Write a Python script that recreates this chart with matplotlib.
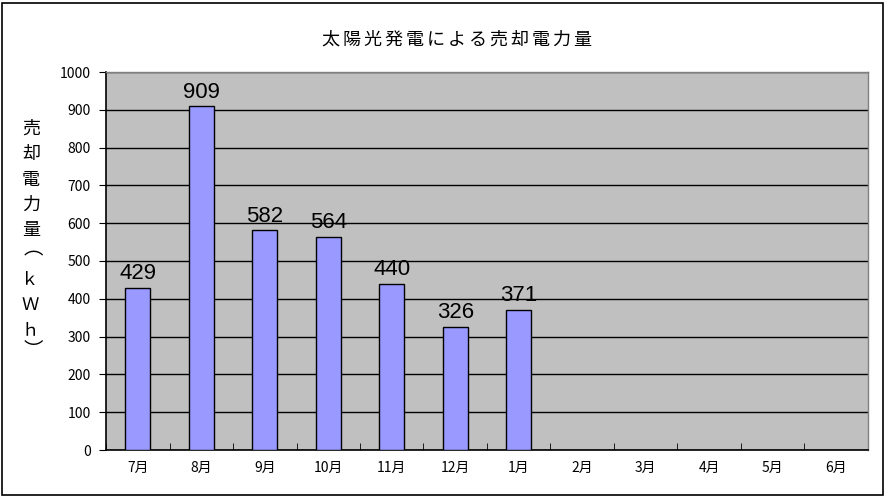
import numpy as np
import matplotlib.pyplot as plt
from matplotlib.patches import Rectangle

plt.rcParams['font.family'] = ['Noto Sans CJK JP', 'DejaVu Sans']

months = ["7月", "8月", "9月", "10月", "11月", "12月", "1月", "2月", "3月", "4月", "5月", "6月"]
sold_kwh = [429, 909, 582, 564, 440, 326, 371]
y_ticks = [0, 100, 200, 300, 400, 500, 600, 700, 800, 900, 1000]
title = "太陽光発電による売却電力量"
ylabel_chars = ["売", "却", "電", "力", "量", "︵", "ｋ", "Ｗ", "ｈ", "︶"]
ylabel_rows = [128.5, 154, 180, 205, 230, 251, 280, 305, 330, 345.5]

W, H = 885, 496
fig = plt.figure(figsize=(W / 100, H / 100), dpi=100)
ax = fig.add_axes([106 / W, 1 - 450 / H, (868 - 106) / W, (450 - 72) / H])

# outer chart frame
fig.patches.append(Rectangle((2 / W, 1 / H), (883 - 2) / W, (494 - 2) / H,
                             transform=fig.transFigure, fill=False,
                             edgecolor="black", linewidth=1.2))

ax.set_facecolor("#C0C0C0")
x = np.arange(len(sold_kwh))
ax.bar(x, sold_kwh, width=0.4, color="#9999FF", edgecolor="black",
       linewidth=1, zorder=3)
for xi, v in zip(x, sold_kwh):
    ax.annotate(str(v), (xi, v), xytext=(0, 2.5), textcoords="offset points",
                ha="center", va="bottom", fontsize=16,
                family="Liberation Sans", zorder=4)

ax.set_xlim(-0.5, len(months) - 0.5)
ax.set_ylim(0, 1000)
ax.set_yticks(y_ticks)
ax.set_yticklabels([str(t) for t in y_ticks], fontsize=10)
ax.yaxis.grid(True, color="black", linewidth=1, zorder=1)
ax.set_axisbelow(True)

ax.set_xticks(np.arange(len(months)))
ax.set_xticklabels(months, fontsize=10)
ax.tick_params(axis="x", length=0, pad=8)
ax.set_xticks(np.arange(len(months) + 1) - 0.5, minor=True)
ax.tick_params(axis="x", which="minor", direction="in", length=5, color="black")
ax.tick_params(axis="y", direction="out", length=5, pad=6)

for s in ["left", "bottom"]:
    ax.spines[s].set_color("black")
    ax.spines[s].set_linewidth(1.2)
for s in ["top", "right"]:
    ax.spines[s].set_color("#808080")
    ax.spines[s].set_linewidth(1)

# title, spaced out character by character
pitch = 21
x0 = 456.5 - pitch * (len(title) - 1) / 2
for i, ch in enumerate(title):
    fig.text((x0 + i * pitch) / W, 1 - 40 / H, ch, ha="center", va="center",
             fontsize=13)

# vertical y-axis label, one character per row; the vertical-form brackets
# sit off-centre in their em box, so nudge them
for ch, row in zip(ylabel_chars, ylabel_rows):
    if ch == "︵":
        cx, size, row = 33, 14, row - 2
    elif ch == "︶":
        cx, size, row = 33, 14, row + 5
    elif ch in "ｋＷｈ":
        cx, size = 30, 12.5
    else:
        cx, size = 31, 13
    fig.text(cx / W, 1 - row / H, ch, ha="center", va="center", fontsize=size,
             family="Noto Sans CJK JP")

fig.savefig("out.png", dpi=100)
